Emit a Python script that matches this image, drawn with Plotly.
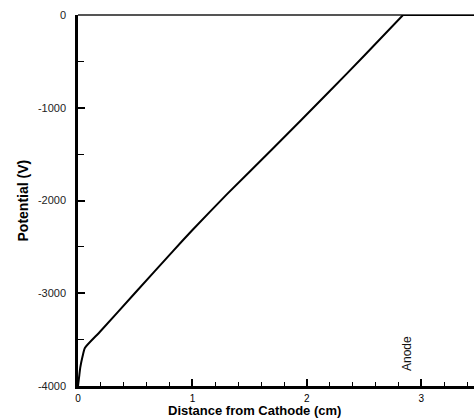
import plotly.graph_objects as go

# Potential profile between cathode and anode
distance_cm = [0.0, 0.01, 0.02, 0.04, 0.06, 0.19, 0.5, 0.83, 1.0, 1.3, 1.69, 2.2, 2.5, 2.84, 3.46]
potential_v = [-4000, -3900, -3800, -3680, -3590, -3418, -2995, -2545, -2318, -1934, -1456, -820, -440, 0, 0]
anode_index = 13  # index where the potential reaches 0 (anode)

y_tickvals = [0, -1000, -2000, -3000, -4000]
y_ticktext = ["0", "-1000", "-2000", "-3000", "-4000"]
x_tickvals = [0, 1, 2, 3]
x_ticktext = ["0", "1", "2", "3"]

anode_label = "Anode"
anode_pos = (2.87, -3650)

FONT = "Liberation Sans, Arial"

fig = go.Figure()
# gap region (cathode -> anode), smooth curve
fig.add_trace(go.Scatter(
    x=distance_cm[:anode_index + 1], y=potential_v[:anode_index + 1], mode="lines",
    line=dict(color="black", width=2, shape="spline", smoothing=0.5),
    showlegend=False, cliponaxis=False,
))
# beyond the anode, flat at 0
fig.add_trace(go.Scatter(
    x=distance_cm[anode_index:], y=potential_v[anode_index:], mode="lines",
    line=dict(color="black", width=2),
    showlegend=False, cliponaxis=False,
))

fig.add_annotation(
    x=anode_pos[0], y=anode_pos[1], xref="x", yref="y", text=anode_label,
    textangle=-90, showarrow=False,
    font=dict(family=FONT, size=12, color="#111"),
)
fig.add_annotation(
    x=0.446, y=-0.066, xref="paper", yref="paper", yanchor="middle",
    text="<b>Distance from Cathode (cm)</b>", showarrow=False,
    font=dict(family=FONT, size=13, color="black"),
)
fig.add_annotation(
    x=-0.1414, y=0.50, xref="paper", yref="paper", xanchor="center", yanchor="middle",
    text="<b>Potential (V)</b>", textangle=-90, showarrow=False,
    font=dict(family=FONT, size=14, color="black"),
)

fig.update_layout(
    width=474, height=419,
    margin=dict(l=78, r=0, t=15, b=33),
    paper_bgcolor="white", plot_bgcolor="white",
    font=dict(family=FONT, size=11, color="#111"),
    xaxis=dict(
        range=[0, 3.46], tickvals=x_tickvals, ticktext=x_ticktext,
        ticks="inside", ticklen=7, tickwidth=1.5, tickcolor="black",
        tickfont=dict(color="black", size=10),
        minor=dict(dtick=0.2, ticks="inside", ticklen=4, tickcolor="black", tickwidth=1),
        showline=True, linecolor="black", linewidth=2.5,
        showgrid=False, zeroline=False, ticklabelstandoff=1,
    ),
    yaxis=dict(
        range=[-4000, 0], tickvals=y_tickvals, ticktext=y_ticktext,
        ticks="inside", ticklen=7, tickwidth=1.5, tickcolor="black",
        tickfont=dict(color="#222", size=11),
        minor=dict(dtick=500, ticks="inside", ticklen=6, tickcolor="black", tickwidth=1),
        showline=True, linecolor="black", linewidth=2.5,
        showgrid=False, zeroline=True, zerolinecolor="#555", zerolinewidth=1.5,
        ticklabelstandoff=7,
    ),
)

fig.write_html("out.html", config={"displayModeBar": False},
               post_script="document.body.style.margin='0';")
